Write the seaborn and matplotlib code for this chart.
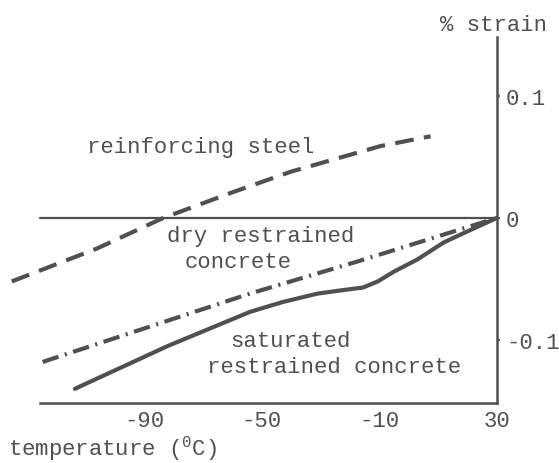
import matplotlib
matplotlib.use('Agg')
import matplotlib.pyplot as plt
import seaborn as sns
import pandas as pd

# values
steel_temp = [-135, -106, -83.5, -60, -40, -9.5, 7.5]
steel_strain = [-0.052, -0.025, 0.0, 0.021, 0.038, 0.059, 0.067]

dry_temp = [-124.5, -54, -16.5, 30]
dry_strain = [-0.118, -0.062, -0.035, 0.0]

sat_temp = [-113.5, -82, -54, -43, -31, -22, -15.5, -10.5, -5, 3, 12, 20, 30]
sat_strain = [-0.140, -0.105, -0.077, -0.069, -0.062, -0.059, -0.057,
              -0.052, -0.044, -0.034, -0.020, -0.011, 0.0]

x_ticks = [-90, -70, -50, -30, -10, 10, 30]
x_tick_labels = ['-90', '', '-50', '', '-10', '', '30']
y_ticks = [-0.1, 0, 0.1]
y_tick_labels = ['-0.1', '0', '0.1']

W, H = 559, 464
ink = '#505050'
mono = ['Liberation Mono', 'DejaVu Sans Mono']


def px(x, y):
    # pixel position -> figure fraction
    return x / W, 1 - y / H


def build_frame():
    parts = [
        pd.DataFrame({'temp': steel_temp, 'strain': steel_strain, 'series': 'steel'}),
        pd.DataFrame({'temp': dry_temp, 'strain': dry_strain, 'series': 'dry'}),
        pd.DataFrame({'temp': sat_temp, 'strain': sat_strain, 'series': 'saturated'}),
    ]
    return pd.concat(parts, ignore_index=True)


def run():
    sns.set_style('white')
    plt.rcParams['font.family'] = mono
    plt.rcParams['mathtext.fontset'] = 'custom'
    plt.rcParams['mathtext.rm'] = 'Liberation Mono'

    df = build_frame()

    fig = plt.figure(figsize=(W / 100, H / 100), dpi=100)
    ax = fig.add_axes([0, (H - 404.3) / H, 497 / W, (404.3 - 38) / H])

    xlim = (-139.0, 30.1)
    ylim = (-0.1519, 0.1484)
    axis_start = -125.4

    sns.lineplot(data=df, x='temp', y='strain', style='series',
                 dashes={'steel': (4.5, 2.5), 'dry': (4, 1.6, 0.5, 1.6), 'saturated': ''},
                 color=ink, lw=3, estimator=None, sort=False, legend=False,
                 solid_joinstyle='round', ax=ax)

    ax.set_xlim(*xlim)
    ax.set_ylim(*ylim)

    # zero line
    ax.axhline(0, xmin=(axis_start - xlim[0]) / (xlim[1] - xlim[0]), xmax=1,
               color=ink, lw=1.6)

    for side in ['top', 'left']:
        ax.spines[side].set_visible(False)
    for side in ['right', 'bottom']:
        ax.spines[side].set_color(ink)
        ax.spines[side].set_linewidth(1.8)
    ax.spines['bottom'].set_bounds(axis_start, xlim[1])

    ax.yaxis.tick_right()
    ax.set_yticks(y_ticks)
    ax.set_yticklabels(y_tick_labels)
    ax.set_xticks(x_ticks)
    ax.set_xticklabels(x_tick_labels)
    ax.tick_params(axis='both', direction='out', length=2.5, width=1.5, color=ink,
                   labelcolor=ink, labelsize=16)
    ax.tick_params(axis='x', pad=2.5)
    ax.tick_params(axis='y', pad=4)
    ax.set_xlabel('')
    ax.set_ylabel('')

    txt = dict(color=ink, fontsize=16, family=mono, va='baseline')
    fig.text(*px(494, 31), '% strain', ha='center', **txt)
    fig.text(*px(8, 456), r'temperature ($^{\mathrm{0}}$C)', ha='left', **txt)
    fig.text(*px(87, 153), 'reinforcing steel', ha='left', **txt)
    fig.text(*px(167, 242), 'dry restrained', ha='left', **txt)
    fig.text(*px(185, 268), 'concrete', ha='left', **txt)
    fig.text(*px(230, 347), 'saturated', ha='left', **txt)
    fig.text(*px(207, 373), 'restrained concrete', ha='left', **txt)

    fig.savefig('out.png', dpi=100, facecolor='white')
    plt.close(fig)


if __name__ == '__main__':
    run()
